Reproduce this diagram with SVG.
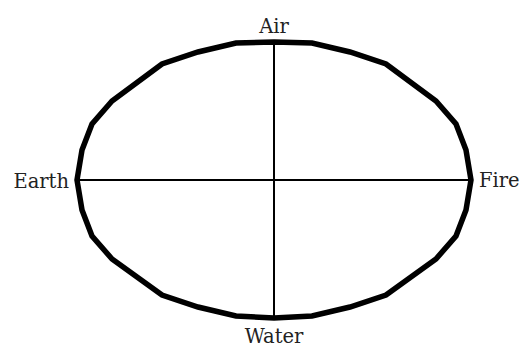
<svg xmlns="http://www.w3.org/2000/svg" width="532" height="360" viewBox="0 0 532 360">
<style>
.lbl{font-family:"DejaVu Serif","Liberation Serif",serif;font-size:19.5px;fill:#222}
.axis{stroke:#000;stroke-width:2;fill:none}
.ring{stroke:#000;stroke-width:5.5;fill:none;stroke-linejoin:miter}
</style>
<rect width="532" height="360" fill="#fff"/>
<g id="connectors">
<line class="axis" x1="76" y1="180" x2="472" y2="180"/>
<line class="axis" x1="274" y1="42" x2="274" y2="318"/>
</g>
<g id="ring">
<polygon class="ring" points="274,42 312,43 350,52 386,64 436,101 456,124 466,150 471,180 466,210 456,236 436,259 386,295 350,307 312,316 274,318 236,316 198,307 162,295 112,259 92,236 82,210 77,180 82,150 92,124 112,101 162,64 198,52 236,43"/>
</g>
<g id="air"><text class="lbl" x="274" y="33" text-anchor="middle">Air</text></g>
<g id="earth"><text class="lbl" x="69" y="188" text-anchor="end">Earth</text></g>
<g id="fire"><text class="lbl" x="479" y="187">Fire</text></g>
<g id="water"><text class="lbl" x="274" y="343" text-anchor="middle">Water</text></g>
</svg>
